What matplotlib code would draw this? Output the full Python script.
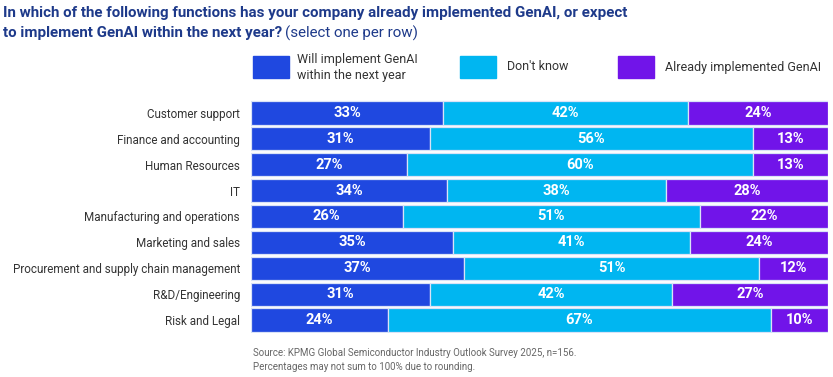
import matplotlib
matplotlib.use("Agg")
import matplotlib.pyplot as plt
from matplotlib.patches import Rectangle
import numpy as np

categories = ["Customer support", "Finance and accounting", "Human Resources", "IT",
              "Manufacturing and operations", "Marketing and sales",
              "Procurement and supply chain management", "R&D/Engineering", "Risk and Legal"]
will_implement = [33, 31, 27, 34, 26, 35, 37, 31, 24]
dont_know = [42, 56, 60, 38, 51, 41, 51, 42, 67]
already = [24, 13, 13, 28, 22, 24, 12, 27, 10]
series_names = ["Will implement GenAI\nwithin the next year", "Don't know", "Already implemented GenAI"]
colors = ["#1F48E0", "#00B6F1", "#7114E9"]

FONT = ["Liberation Sans Narrow", "Roboto", "DejaVu Sans"]
plt.rcParams['font.family'] = FONT

W, H = 833, 377
fig = plt.figure(figsize=(W / 100, H / 100), dpi=100)

# axes region in pixels
x0, x1 = 251, 828
y_top, y_bot = 100, 333
ax = fig.add_axes([x0 / W, 1 - y_bot / H, (x1 - x0) / W, (y_bot - y_top) / H])

data = np.array([will_implement, dont_know, already], dtype=float)
totals = data.sum(axis=0)
norm = data / totals * 100
n = len(categories)
ypos = np.arange(n)
left = np.zeros(n)
for i in range(3):
    ax.barh(ypos, norm[i], left=left, height=0.9, color=colors[i],
            edgecolor="#d9e2f7", linewidth=0.9)
    for j in range(n):
        ax.text(left[j] + norm[i][j] / 2, ypos[j], f"{int(data[i][j])}%",
                ha="center", va="center", color="white", fontsize=10.5,
                fontweight="bold", family=["Roboto", "DejaVu Sans"])
    left += norm[i]

ax.set_xlim(0, 100)
ax.set_ylim(n - 0.5, -0.5)
ax.set_yticks(ypos)
ax.set_yticklabels(categories, fontsize=8.4, color="#333333", family=["Roboto", "DejaVu Sans"])
ax.tick_params(axis="y", length=0, pad=8)
ax.set_xticks([])
for s in ax.spines.values():
    s.set_visible(False)

# Title
fig.text(3 / W, 1 - 13 / H, "In which of the following functions has your company already implemented GenAI, or expect",
         fontsize=10.9, fontweight="bold", color="#1E3A8A", va="center", ha="left")
t2 = fig.text(3 / W, 1 - 33 / H, "to implement GenAI within the next year?",
              fontsize=10.9, fontweight="bold", color="#1E3A8A", va="center", ha="left")
fig.canvas.draw()
bb = t2.get_window_extent()
fig.text((bb.x1 + 3) / W, 1 - 33 / H, "(select one per row)",
         fontsize=10.9, color="#1E3A8A", va="center", ha="left")

# Legend
leg_sq = [253, 460, 618]
leg_tx = [297, 507, 665]
for k in range(3):
    fig.patches.append(Rectangle((leg_sq[k] / W, 1 - 78 / H), 36 / W, 22 / H,
                                 transform=fig.transFigure, color=colors[k]))
    fig.text(leg_tx[k] / W, 1 - 67 / H, series_names[k], fontsize=9, color="#333333",
             va="center", ha="left", linespacing=1.3, family=["Roboto", "DejaVu Sans"])

# Footer
fig.text(253 / W, 1 - 353 / H, "Source: KPMG Global Semiconductor Industry Outlook Survey 2025, n=156.",
         fontsize=7, color="#666666", va="center", ha="left", family=["Roboto", "DejaVu Sans"])
fig.text(253 / W, 1 - 367 / H, "Percentages may not sum to 100% due to rounding.",
         fontsize=7, color="#666666", va="center", ha="left", family=["Roboto", "DejaVu Sans"])

fig.savefig("out.png", dpi=100)
